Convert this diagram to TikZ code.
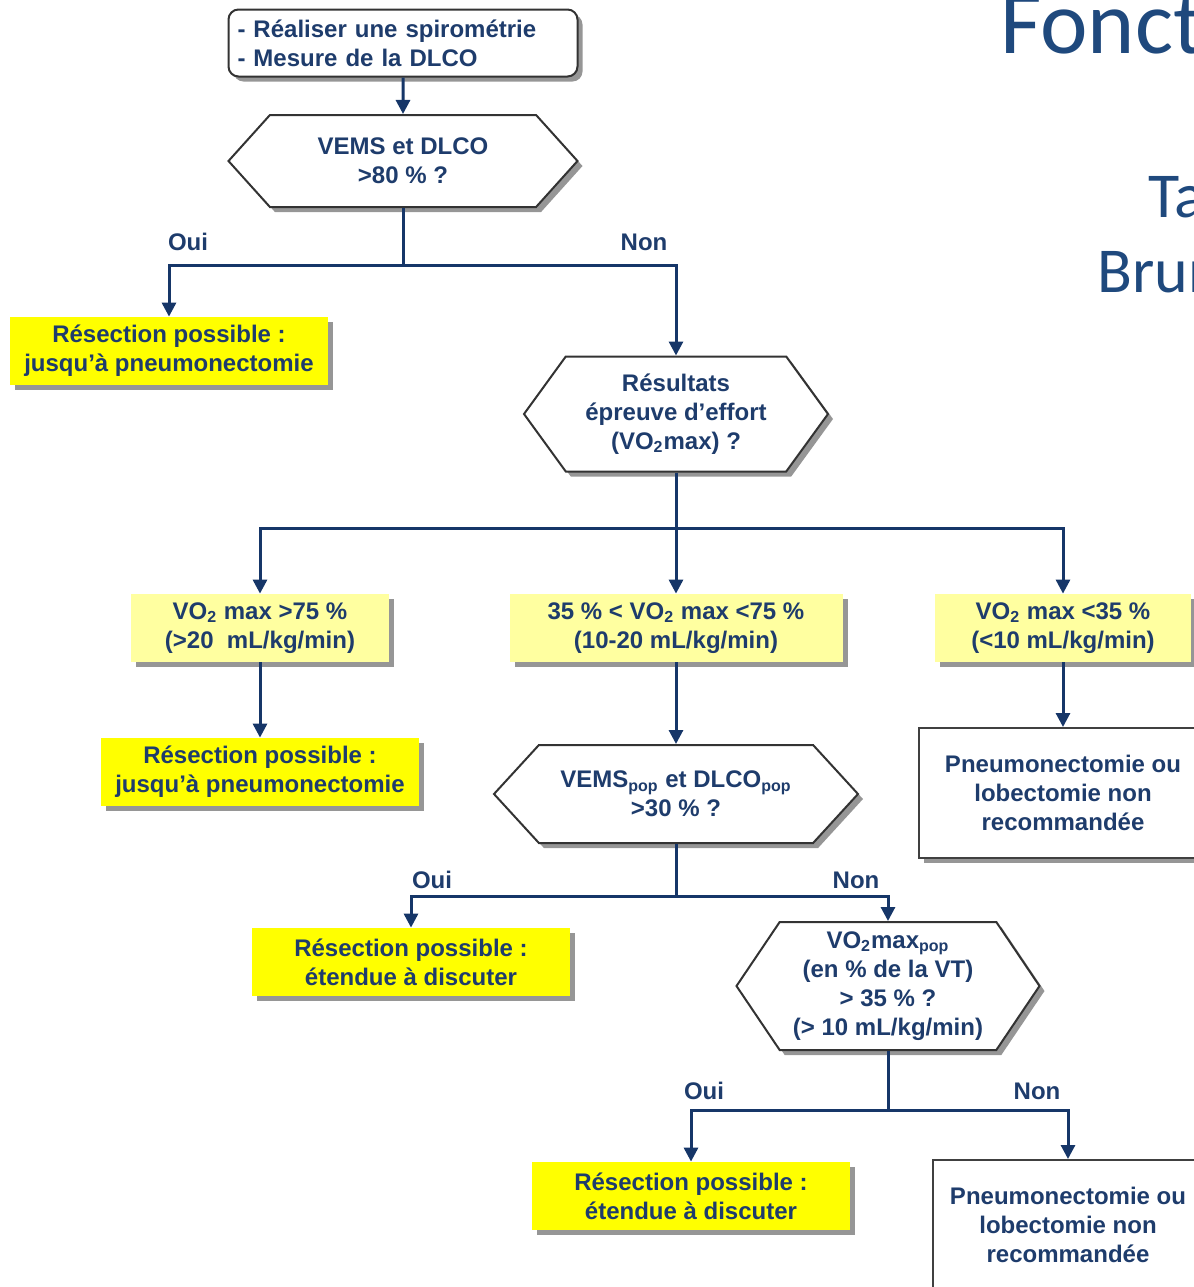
\documentclass[tikz,border=0pt]{standalone}
\usepackage{fontspec}
\setmainfont{Liberation Sans}
\newfontfamily\titlefont{Carlito}
\usetikzlibrary{positioning, arrows.meta, shapes.symbols, shadows}
\definecolor{navy}{RGB}{22,54,104}
\definecolor{txtBlue}{RGB}{30,60,108}
\definecolor{titleBlue}{RGB}{31,73,125}
\definecolor{brightYellow}{RGB}{255,255,0}
\definecolor{paleYellow}{RGB}{255,255,160}
\definecolor{shadowGray}{RGB}{150,150,150}

\begin{document}
\begin{tikzpicture}[x=0.5pt, y=-0.5pt,
  base/.style={font=\fontsize{12}{14.5}\selectfont\bfseries, text=txtBlue, align=center, inner sep=0pt},
  shade/.style={drop shadow={shadow xshift=2.5pt, shadow yshift=-2.5pt, fill=shadowGray, opacity=1}},
  startbox/.style={base, shade, fill=white, draw=black!80, line width=1pt, rounded corners=5pt,
    text width=165.5pt, align=left, inner xsep=4.5pt, minimum height=33.5pt},
  quest/.style={base, shade, fill=white, draw=black!80, line width=1pt, signal, signal to=east and west},
  res/.style={base, shade, fill=brightYellow, minimum width=159pt, minimum height=34pt},
  vo/.style={base, shade, fill=paleYellow, minimum height=34pt},
  stopbox/.style={base, shade, fill=white, draw=black!75, line width=1pt, minimum height=65pt},
  lbl/.style={base},
  title/.style={font=\titlefont, text=titleBlue, anchor=base west, inner sep=0pt},
  ln/.style={draw=navy, line width=1.5pt},
  arr/.style={ln, -{Triangle[length=7pt, width=7pt]}},
]
  \useasboundingbox (0,0) rectangle (1194,1287);
  \clip (0,0) rectangle (1194,1287);

  \node[title, font=\titlefont\fontsize{45}{45}\selectfont] (fonct) at (1000,53) {Fonct};
  \node[title, font=\titlefont\fontsize{32}{32}\selectfont] (ta) at (1148,217) {Ta};
  \node[title, font=\titlefont\fontsize{32}{32}\selectfont] (brun) at (1097,292) {Brun};

  \node[startbox] (spiro) at (403,43) {- Réaliser une spirométrie\\- Mesure de la DLCO};
  \node[quest, minimum width=174.5pt, minimum height=46pt, signal pointer angle=96] (q1) at (403,161)
    {VEMS et DLCO\\>80 \% ?};
  \node[res] (r1) at (169,351) {Résection possible :\\jusqu'à pneumonectomie};
  \node[quest, minimum width=152pt, minimum height=57.5pt, signal pointer angle=108] (q2) at (676,414)
    {Résultats\\épreuve d’effort\\(VO\textsubscript{2}max) ?};

  \node[vo, minimum width=129pt] (v1) at (260,628) {VO\textsubscript{2} max >75 \%\\(>20~ mL/kg/min)};
  \node[vo, minimum width=166.5pt] (v2) at (676,628) {35 \% < VO\textsubscript{2} max <75 \%\\(10-20 mL/kg/min)};
  \node[vo, minimum width=128pt] (v3) at (1063,628) {VO\textsubscript{2} max <35 \%\\(<10 mL/kg/min)};

  \node[res] (r2) at (260,772) {Résection possible :\\jusqu'à pneumonectomie};
  \node[quest, minimum width=182pt, minimum height=49pt, signal pointer angle=95] (q3) at (676,794)
    {VEMS\textsubscript{pop} et DLCO\textsubscript{pop}\\>30 \% ?};
  \node[stopbox, minimum width=144pt] (n1) at (1063,793) {Pneumonectomie ou\\lobectomie non\\recommandée};

  \node[res] (r3) at (411,962) {Résection possible :\\étendue à discuter};
  \node[quest, minimum width=151.5pt, minimum height=64pt, signal pointer angle=112] (q4) at (888,986)
    {VO\textsubscript{2}max\textsubscript{pop}\\(en \% de la VT)\\> 35 \% ?\\(> 10 mL/kg/min)};

  \node[res] (r4) at (691,1196) {Résection possible :\\étendue à discuter};
  \node[stopbox, minimum width=135pt] (n2) at (1068,1225) {Pneumonectomie ou\\lobectomie non\\recommandée};

  \coordinate (j1) at (403,265);
  \coordinate (j2) at (676,528);
  \coordinate (j3) at (676,896);
  \coordinate (j4) at (888,1110);

  \node[lbl] (oui1) at (188,242) {Oui};
  \node[lbl] (non1) at (644,242) {Non};
  \node[lbl] (oui2) at (432,880) {Oui};
  \node[lbl] (non2) at (856,880) {Non};
  \node[lbl] (oui3) at (704,1091) {Oui};
  \node[lbl] (non3) at (1037,1091) {Non};

  \draw[arr] (spiro) -- (q1);
  \draw[ln] (q1.south) -- (j1);
  \draw[arr] (j1) -| (r1.north);
  \draw[arr] (j1) -| (q2.north);

  \draw[ln] (q2.south) -- (j2);
  \draw[arr] (j2) -| (v1.north);
  \draw[arr] (j2) -- (v2.north);
  \draw[arr] (j2) -| (v3.north);

  \draw[arr] (v1.south) -- (r2.north);
  \draw[arr] (v2.south) -- (q3.north);
  \draw[arr] (v3.south) -- (n1.north);

  \draw[ln] (q3.south) -- (j3);
  \draw[arr] (j3) -| (r3.north);
  \draw[arr] (j3) -| (q4.north);

  \draw[ln] (q4.south) -- (j4);
  \draw[arr] (j4) -| (r4.north);
  \draw[arr] (j4) -| (n2.north);
\end{tikzpicture}
\end{document}
